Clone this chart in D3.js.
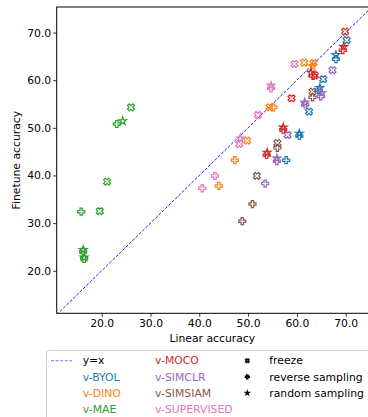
<!DOCTYPE html>
<html><head><meta charset="utf-8">
<script src="https://cdn.jsdelivr.net/npm/d3@7"></script>
<style>body{margin:0;background:#fff;}svg{display:block;font-family:"DejaVu Sans",sans-serif;}</style>
</head><body><div id="chart"></div>
<script>
// ---- data ----
const models = ["v-BYOL","v-DINO","v-MAE","v-MOCO","v-SIMCLR","v-SIMSIAM","v-SUPERVISED"];
const modelColors = ["#1f77b4","#ff7f0e","#2ca02c","#d62728","#9467bd","#8c564b","#e377c2"];
const modes = ["freeze","reverse sampling","random sampling"];
const xTicks = [20,30,40,50,60,70];
const yTicks = [20,30,40,50,60,70];
// [model, linear accuracy, finetune accuracy]
const freezePts = [
  ["v-MOCO",69.9,70.2],["v-BYOL",70.2,68.4],["v-SIMCLR",67.3,62.1],["v-SUPERVISED",59.5,63.4],
  ["v-DINO",61.5,63.7],["v-DINO",63.4,63.6],["v-MOCO",63.7,61.0],["v-BYOL",65.4,60.2],
  ["v-SIMSIAM",63.2,57.6],["v-MOCO",58.9,56.2],["v-BYOL",62.5,53.4],["v-SUPERVISED",52.0,52.7],
  ["v-DINO",54.4,54.3],["v-SIMCLR",58.1,48.5],["v-SUPERVISED",48.2,46.6],["v-DINO",49.8,47.3],
  ["v-SIMSIAM",56.0,46.8],["v-SIMSIAM",51.8,39.9],
  ["v-MAE",26.0,54.3],["v-MAE",21.1,38.7],["v-MAE",19.6,32.5]
];
const reversePts = [
  ["v-MOCO",69.4,66.3],["v-BYOL",68.0,64.4],["v-MOCO",63.3,60.9],["v-SIMCLR",64.9,56.6],
  ["v-SIMSIAM",63.2,56.4],["v-SIMCLR",61.7,54.9],["v-SUPERVISED",54.7,58.3],["v-DINO",55.2,54.3],
  ["v-MOCO",57.2,49.6],["v-BYOL",60.5,48.3],["v-SIMSIAM",56.0,45.8],["v-MOCO",53.8,44.3],
  ["v-SIMCLR",55.9,43.0],["v-BYOL",57.8,43.2],["v-DINO",47.3,43.2],["v-SUPERVISED",43.2,39.9],
  ["v-DINO",44.0,37.8],["v-SUPERVISED",40.6,37.3],["v-SIMCLR",53.5,38.3],["v-SIMSIAM",50.9,34.0],
  ["v-SIMSIAM",48.8,30.4],["v-BYOL",64.5,57.9],
  ["v-MAE",23.1,50.8],["v-MAE",15.8,32.4],["v-MAE",16.2,24.0],["v-MAE",16.4,22.5]
];
const randomPts = [
  ["v-MOCO",69.6,67.0],["v-BYOL",68.0,65.3],["v-DINO",63.2,62.9],["v-MOCO",62.9,61.6],
  ["v-BYOL",64.7,58.4],["v-SIMCLR",65.1,57.3],["v-SIMCLR",61.6,55.3],["v-SUPERVISED",54.7,58.9],
  ["v-MOCO",57.2,50.1],["v-BYOL",60.5,48.8],["v-SUPERVISED",48.4,47.8],["v-MOCO",53.9,44.8],
  ["v-SIMCLR",55.9,43.6],
  ["v-MAE",24.3,51.4],["v-MAE",16.2,24.4],["v-MAE",16.4,22.8]
];

// ---- layout ----
const W = 368, H = 417;
const L = 56.7, R = 368, T = 7, B = 313.3;
const FS = 10.8;
const svg = d3.select("#chart").append("svg").attr("width", W).attr("height", H);
const x = d3.scaleLinear().domain([10.78, 74.57]).range([L, R]);
const y = d3.scaleLinear().domain([11.07, 75.36]).range([B, T]);
const color = d3.scaleOrdinal().domain(models).range(modelColors);

// marker shapes
function plusPath(h) {
  const w = h / 3;
  return [[-w,-h],[w,-h],[w,-w],[h,-w],[h,w],[w,w],[w,h],[-w,h],[-w,w],[-h,w],[-h,-w],[-w,-w]];
}
function xPath(h) {
  const a = Math.PI / 4;
  return plusPath(h).map(([px, py]) => [px * Math.cos(a) - py * Math.sin(a), px * Math.sin(a) + py * Math.cos(a)]);
}
function starPath(h) {
  const pts = [];
  for (let i = 0; i < 10; i++) {
    const r = i % 2 === 0 ? h : h * 0.381966;
    const ang = -Math.PI / 2 + i * Math.PI / 5;
    pts.push([r * Math.cos(ang), r * Math.sin(ang)]);
  }
  return pts;
}
const shapeFns = {"freeze": xPath, "reverse sampling": plusPath, "random sampling": starPath};
const shapeSize = {"freeze": 3.7, "reverse sampling": 3.5, "random sampling": 4.1};
function pathStr(pts) { return "M" + pts.map(p => p[0].toFixed(2) + "," + p[1].toFixed(2)).join("L") + "Z"; }

svg.append("clipPath").attr("id", "pc").append("rect")
  .attr("x", L).attr("y", T).attr("width", R - L + 5).attr("height", B - T);
const plot = svg.append("g").attr("clip-path", "url(#pc)");

// y=x line
const lo = Math.min(x.domain()[0], y.domain()[0]), hi = Math.max(x.domain()[1], y.domain()[1]);
plot.append("line")
  .attr("x1", x(lo)).attr("y1", y(lo)).attr("x2", x(hi)).attr("y2", y(hi))
  .attr("stroke", "#0000ff").attr("stroke-width", 0.9).attr("stroke-dasharray", "3,1.6");

// points
const sets = [["freeze", freezePts], ["reverse sampling", reversePts], ["random sampling", randomPts]];
sets.forEach(([mode, pts]) => {
  plot.selectAll(null).data(pts).enter().append("path")
    .attr("d", pathStr(shapeFns[mode](shapeSize[mode])))
    .attr("transform", d => `translate(${x(d[1])},${y(d[2])})`)
    .attr("fill", "none")
    .attr("stroke", d => color(d[0]))
    .attr("stroke-width", 1.2);
});

// axes
const xAxis = svg.append("g").attr("transform", `translate(0,${B})`)
  .call(d3.axisBottom(x).tickValues(xTicks).tickFormat(d3.format(".1f")).tickSize(3.5).tickSizeOuter(0));
const yAxis = svg.append("g").attr("transform", `translate(${L},0)`)
  .call(d3.axisLeft(y).tickValues(yTicks).tickFormat(d3.format(".1f")).tickSize(3.5).tickSizeOuter(0));
[xAxis, yAxis].forEach(g => {
  g.select(".domain").remove();
  g.selectAll("text").attr("font-family", "DejaVu Sans").attr("font-size", FS).attr("fill", "#000");
  g.selectAll("line").attr("stroke", "#000").attr("stroke-width", 0.8);
});
xAxis.selectAll("text").attr("dy", "0.71em").attr("y", 6);
yAxis.selectAll("text").attr("x", -5.5);

// spines
svg.append("rect").attr("x", L).attr("y", T).attr("width", R - L + 10).attr("height", B - T)
  .attr("fill", "none").attr("stroke", "#000").attr("stroke-width", 1);

// axis labels
svg.append("text").attr("x", (L + R) / 2).attr("y", 342).attr("text-anchor", "middle")
  .attr("font-size", FS).attr("fill", "#000").text("Linear accuracy");
svg.append("text").attr("transform", `translate(20,${(T + B) / 2}) rotate(-90)`)
  .attr("text-anchor", "middle").attr("font-size", FS).attr("fill", "#000").text("Finetune accuracy");

// legend
const lg = svg.append("g");
lg.append("rect").attr("x", 46.5).attr("y", 350.5).attr("width", 340).attr("height", 90).attr("rx", 3)
  .attr("fill", "#fff").attr("fill-opacity", 0.8).attr("stroke", "#cccccc").attr("stroke-width", 0.9);
const rowY = [360.7, 376.8, 393.0, 409.2];
lg.append("line").attr("x1", 51).attr("x2", 72).attr("y1", rowY[0]).attr("y2", rowY[0])
  .attr("stroke", "#0000ff").attr("stroke-width", 0.9).attr("stroke-dasharray", "3,1.6").attr("stroke-opacity", 0.6);
lg.append("text").attr("x", 82.7).attr("y", rowY[0]).attr("dy", "0.35em").attr("font-size", FS).attr("fill", "#000").text("y=x");
const col1 = models.slice(0, 3), col2 = models.slice(3);
col1.forEach((m, i) => {
  lg.append("text").attr("x", 82.7).attr("y", rowY[i + 1]).attr("dy", "0.35em").attr("font-size", FS)
    .attr("fill", color(m)).text(m);
});
col2.forEach((m, i) => {
  lg.append("text").attr("x", 155).attr("y", rowY[i]).attr("dy", "0.35em").attr("font-size", FS)
    .attr("fill", color(m)).text(m);
});
modes.forEach((m, i) => {
  lg.append("path").attr("d", pathStr(shapeFns[m](2.0)))
    .attr("transform", `translate(247.3,${rowY[i]})`)
    .attr("fill", "none").attr("stroke", "#000").attr("stroke-width", 1.2);
  lg.append("text").attr("x", 269.3).attr("y", rowY[i]).attr("dy", "0.35em").attr("font-size", FS)
    .attr("fill", "#000").text(m);
});
</script></body></html>
